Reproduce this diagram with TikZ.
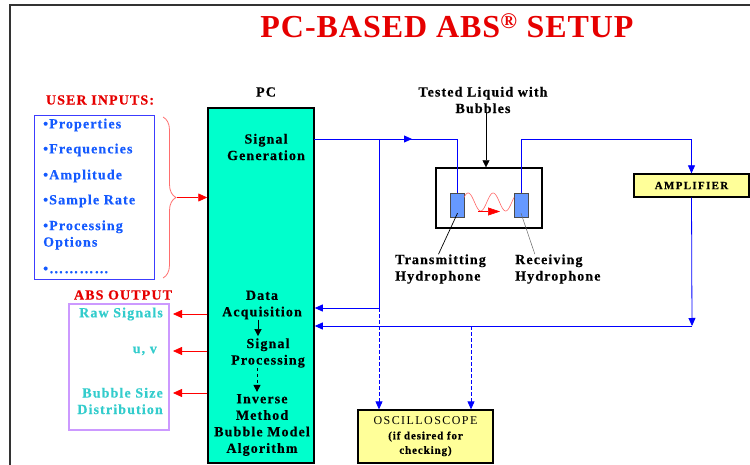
\documentclass[tikz,border=0pt]{standalone}
\usepackage{fontspec}
\setmainfont{Liberation Serif}
\newfontfamily\lblfont[LetterSpace=8, BoldFeatures={FakeBold=0.5}]{Liberation Serif}
\newfontfamily\capfont[LetterSpace=12, BoldFeatures={FakeBold=0.5}]{Liberation Serif}
\newfontfamily\headfont[LetterSpace=3]{Liberation Serif}
\usetikzlibrary{positioning,arrows.meta,decorations.pathreplacing,decorations.markings}
\definecolor{titlered}{RGB}{230,0,0}
\definecolor{inblue}{RGB}{20,90,255}
\definecolor{boxblue}{RGB}{60,60,255}
\definecolor{wireblue}{RGB}{0,0,255}
\definecolor{outcyan}{RGB}{51,204,204}
\definecolor{outpurple}{RGB}{204,153,255}
\definecolor{pcgreen}{RGB}{0,255,204}
\definecolor{ampyellow}{RGB}{255,255,153}
\definecolor{hydroblue}{RGB}{102,153,255}
\definecolor{bracered}{RGB}{255,110,110}

\begin{document}
\begin{tikzpicture}[x=1pt, y=-1pt,
  txt/.style={font=\lblfont\bfseries\fontsize{14}{16.5}\selectfont, align=center, inner sep=0pt},
  intxt/.style={txt, text=inblue, align=left, anchor=west},
  outtxt/.style={txt, text=outcyan, align=right, anchor=east},
  redlbl/.style={txt, text=titlered},
  ybox/.style={draw, line width=1.3pt, fill=ampyellow, align=center, inner sep=0pt},
  hydro/.style={draw=black!70, fill=hydroblue, minimum width=14, minimum height=24, inner sep=0pt},
  wire/.style={draw=wireblue, line width=0.8pt},
  dwire/.style={wire, dash pattern=on 4pt off 2pt},
  arr/.style={-{Triangle[length=8pt,width=7pt]}},
  redarr/.style={draw=red, line width=0.8pt, -{Triangle[length=9pt,width=8pt]}},
  karr/.style={draw=black, line width=0.6pt, -{Triangle[length=7pt,width=7pt]}},
  sigarr/.style={postaction={decorate}, decoration={markings,
    mark=at position 98pt with {\arrow{Triangle[length=8pt,width=7pt]}}}}
]
\useasboundingbox (0,0) rectangle (750,465);
\draw[black!80, line width=1.6pt] (10,465) -- (10,5) -- (750,5);

\node[font=\headfont\bfseries\fontsize{32}{32}\selectfont, text=titlered, inner sep=0pt] (title)
  at (447,26) {PC-BASED ABS\textsuperscript{®} SETUP};

\node[redlbl] (uin) at (100,100) {USER INPUTS:};
\node[draw=boxblue, line width=1pt, minimum width=120, minimum height=164] (inputs) at (94,198) {};
\foreach \t/\y [count=\i] in {•Properties/125, •Frequencies/150, •Amplitude/176,
    •Sample Rate/201, {•Processing\\Options}/235, •…………/270}
  \node[intxt] (in\i) at (43,\y) {\t};
\draw[bracered, line width=0.8pt, decorate, decoration={brace, amplitude=13pt}] (163,117) -- (163,278);
\coordinate (bt) at (177,197.5);

\node[txt] (pclbl) at (266,92) {PC};
\node[draw, line width=1.5pt, fill=pcgreen, minimum width=106, minimum height=355] (pc) at (261,285.5) {};
\node[txt] (gen) at (266,147) {Signal\\Generation};
\node[txt] (acq) at (262,305) {Data\\Acquisition};
\node[txt] (proc) at (268,353) {Signal\\Processing};
\node[txt] (inv) at (262,425) {Inverse\\Method\\Bubble Model\\Algorithm};
\draw[karr] ([xshift=-4pt]acq.south) -- ([xshift=-10pt,yshift=2pt]proc.north);
\draw[karr, dashed] ([xshift=-11pt]proc.south) -- ([xshift=-5pt,yshift=2pt]inv.north);
\draw[redarr] (bt) -- (pc.west |- bt);

\node[redlbl] (absout) at (123,295) {ABS OUTPUT};
\node[draw=outpurple, line width=1.8pt, minimum width=100, minimum height=126] (outbox) at (119,367) {};
\node[outtxt] (raw) at (163,314) {Raw Signals};
\node[outtxt] (uv) at (157,351) {u, v};
\node[outtxt] (bsd) at (163,401) {Bubble Size\\Distribution};
\coordinate (outedge) at (173,0);
\draw[redarr] (pc.west |- raw) -- (outedge |- raw);
\draw[redarr] (pc.west |- uv) -- (outedge |- uv);
\draw[redarr] (pc.west |- 0,393) -- (outedge |- 0,393);

\node[txt] (liq) at (483,100) {Tested Liquid with\\Bubbles};
\node[draw, line width=1.3pt, minimum width=106, minimum height=60] (tank) at (489,198) {};
\node[hydro] (tx) at (457.5,205) {};
\node[hydro] (rx) at (521,205) {};
\draw[draw=black!70, karr] ([xshift=-3pt]tank.north |- liq.south) -- ([xshift=-3pt]tank.north);
\draw[red!60, line width=0.6pt] plot[domain=464:514, samples=80] (\x, {202-9*sin((\x-464)*14.4+30)});
\draw[red, line width=0.6pt, -{Triangle[length=12pt,width=8pt]}] (478,211.5) -- (500,211.5);
\node[txt, align=left, anchor=west] (txlbl) at (395,269) {Transmitting\\Hydrophone};
\node[txt, align=left, anchor=west] (rxlbl) at (515,269) {Receiving\\Hydrophone};
\draw[line width=0.7pt] ([xshift=-2pt]txlbl.north) -- ([yshift=4pt]tx.south);
\draw[black!60, line width=0.5pt] ([xshift=-23pt]rxlbl.north) -- ([yshift=4pt]rx.south);

\node[ybox, minimum width=115, minimum height=23, font=\capfont\bfseries\fontsize{11}{12}\selectfont] (amp)
  at (691.5,185.5) {AMPLIFIER};
\node[ybox, minimum width=135, minimum height=53, font=\fontsize{11}{14.5}\selectfont] (osc) at (425.5,436.5)
  {{\capfont\fontsize{12}{14.5}\selectfont OSCILLOSCOPE}\\
   {\lblfont\bfseries\fontsize{11}{14.5}\selectfont (if desired for}\\
   {\lblfont\bfseries\fontsize{11}{14.5}\selectfont checking)}};

\coordinate (genout) at (314,139);
\coordinate (split) at (379,139);
\coordinate (tap1) at (379,308);
\coordinate (ret) at (692,326);
\coordinate (tap2) at (471,326);
\draw[wire, sigarr] (genout) -| (tx.north);
\draw[wire, arr] (split) |- (pc.east |- tap1);
\draw[dwire, arr] (tap1) -- (osc.north -| tap1);
\draw[wire, arr] (rx.north) -- (rx.north |- genout) -| (amp.north);
\draw[wire, arr] (amp.south) -- (ret);
\draw[wire, arr] (ret) -- (pc.east |- ret);
\draw[dwire, arr] (tap2) -- (osc.north -| tap2);
\end{tikzpicture}
\end{document}
